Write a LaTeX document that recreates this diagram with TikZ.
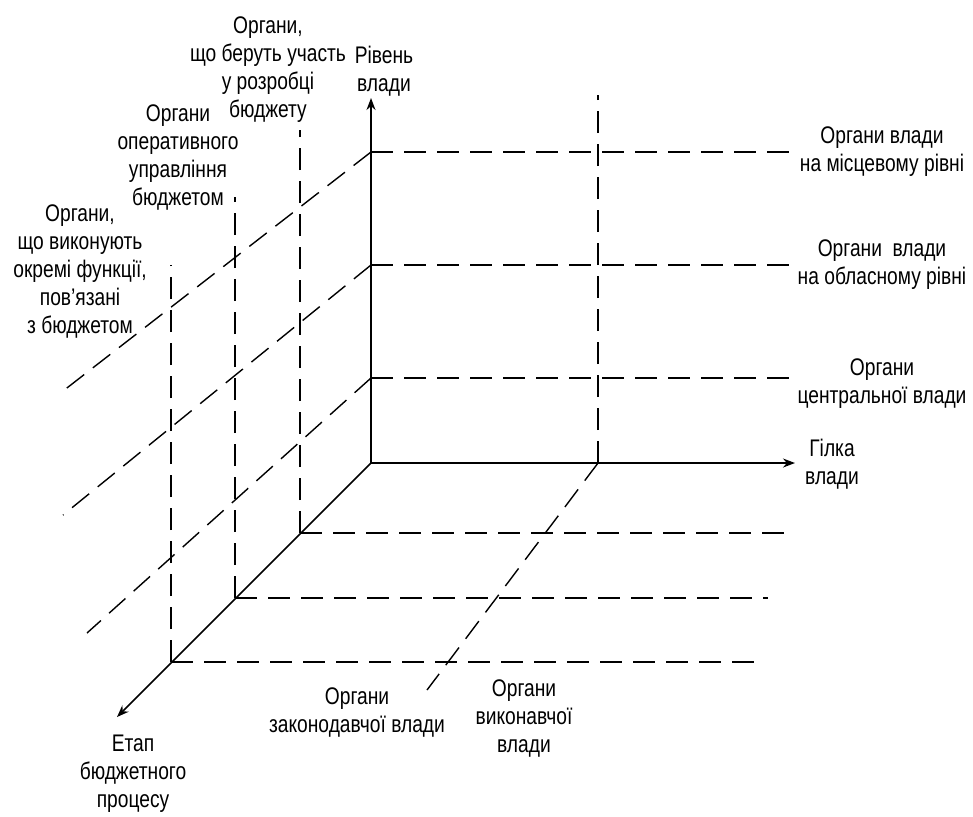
\documentclass[tikz,border=0pt]{standalone}
\usepackage{fontspec}
\setmainfont[FakeStretch=0.8]{Liberation Sans}
\usetikzlibrary{arrows.meta}

\begin{document}
\begin{tikzpicture}[x=0.5pt,y=-0.5pt,
  axis/.style={line width=0.8pt,-{Stealth[length=6pt,width=4.5pt]}},
  grid/.style={line width=0.7pt,dash pattern=on 11pt off 5.5pt},
  lbl/.style={align=center,font=\fontsize{12}{14}\selectfont,inner sep=0pt}]
\useasboundingbox (0,0) rectangle (973,816);
% axes
\coordinate (O) at (371,463);
\coordinate (up) at (371,98);
\coordinate (right) at (795,463);
\coordinate (down) at (117,717);
% levels of power
\coordinate (l1) at (371,378);
\coordinate (l2) at (371,265);
\coordinate (l3) at (371,152);
% stages
\coordinate (s1) at (300,533);
\coordinate (s2) at (235,598);
\coordinate (s3) at (171,662);
% branches
\coordinate (b1) at (598,463);
% free ends
\coordinate (l1e) at (790,378);
\coordinate (l2e) at (797,265);
\coordinate (l3e) at (790,152);
\coordinate (l1d) at (87,633);
\coordinate (l2d) at (63,515);
\coordinate (l3d) at (63,391);
\coordinate (s1e) at (792,533);
\coordinate (s2e) at (768,598);
\coordinate (s3e) at (757,662);
\coordinate (s1u) at (300,130);
\coordinate (s2u) at (235,197);
\coordinate (s3u) at (171,265);
\coordinate (b1u) at (598,95);
\coordinate (b1d) at (427,690);

\draw[axis] (O) -- (up);
\draw[axis] (O) -- (right);
\draw[axis] (O) -- (down);

\draw[grid]
  (l1) edge (l1e) (l1) edge (l1d)
  (l2) edge (l2e) (l2) edge (l2d)
  (l3) edge (l3e) (l3) edge (l3d)
  (s1) edge (s1e) (s1) edge (s1u)
  (s2) edge (s2e) (s2) edge (s2u)
  (s3) edge (s3e) (s3) edge (s3u)
  (b1) edge (b1u) (b1) edge (b1d);

% labels
\node[lbl] (rivn) at (384,71) {Рівень\\влади};
\node[lbl] (gilka) at (832,464) {Гілка\\влади};
\node[lbl] (etap) at (133,774) {Етап\\бюджетного\\процесу};
\node[lbl] (rozr) at (268,70) {Органи,\\що беруть участь\\у розробці\\бюджету};
\node[lbl] (oper) at (178,157) {Органи\\оперативного\\управління\\бюджетом};
\node[lbl] (funk) at (80,271) {Органи,\\що виконують\\окремі функції,\\пов’язані\\з бюджетом};
\node[lbl] (misc) at (882,152) {Органи влади\\на місцевому рівні};
\node[lbl] (obl) at (882,265) {Органи~~влади\\на обласному рівні};
\node[lbl] (centr) at (882,384) {Органи\\центральної влади};
\node[lbl] (zak) at (357,712) {Органи\\законодавчої влади};
\node[lbl] (vykon) at (524,718) {Органи\\виконавчої\\влади};
\end{tikzpicture}
\end{document}
